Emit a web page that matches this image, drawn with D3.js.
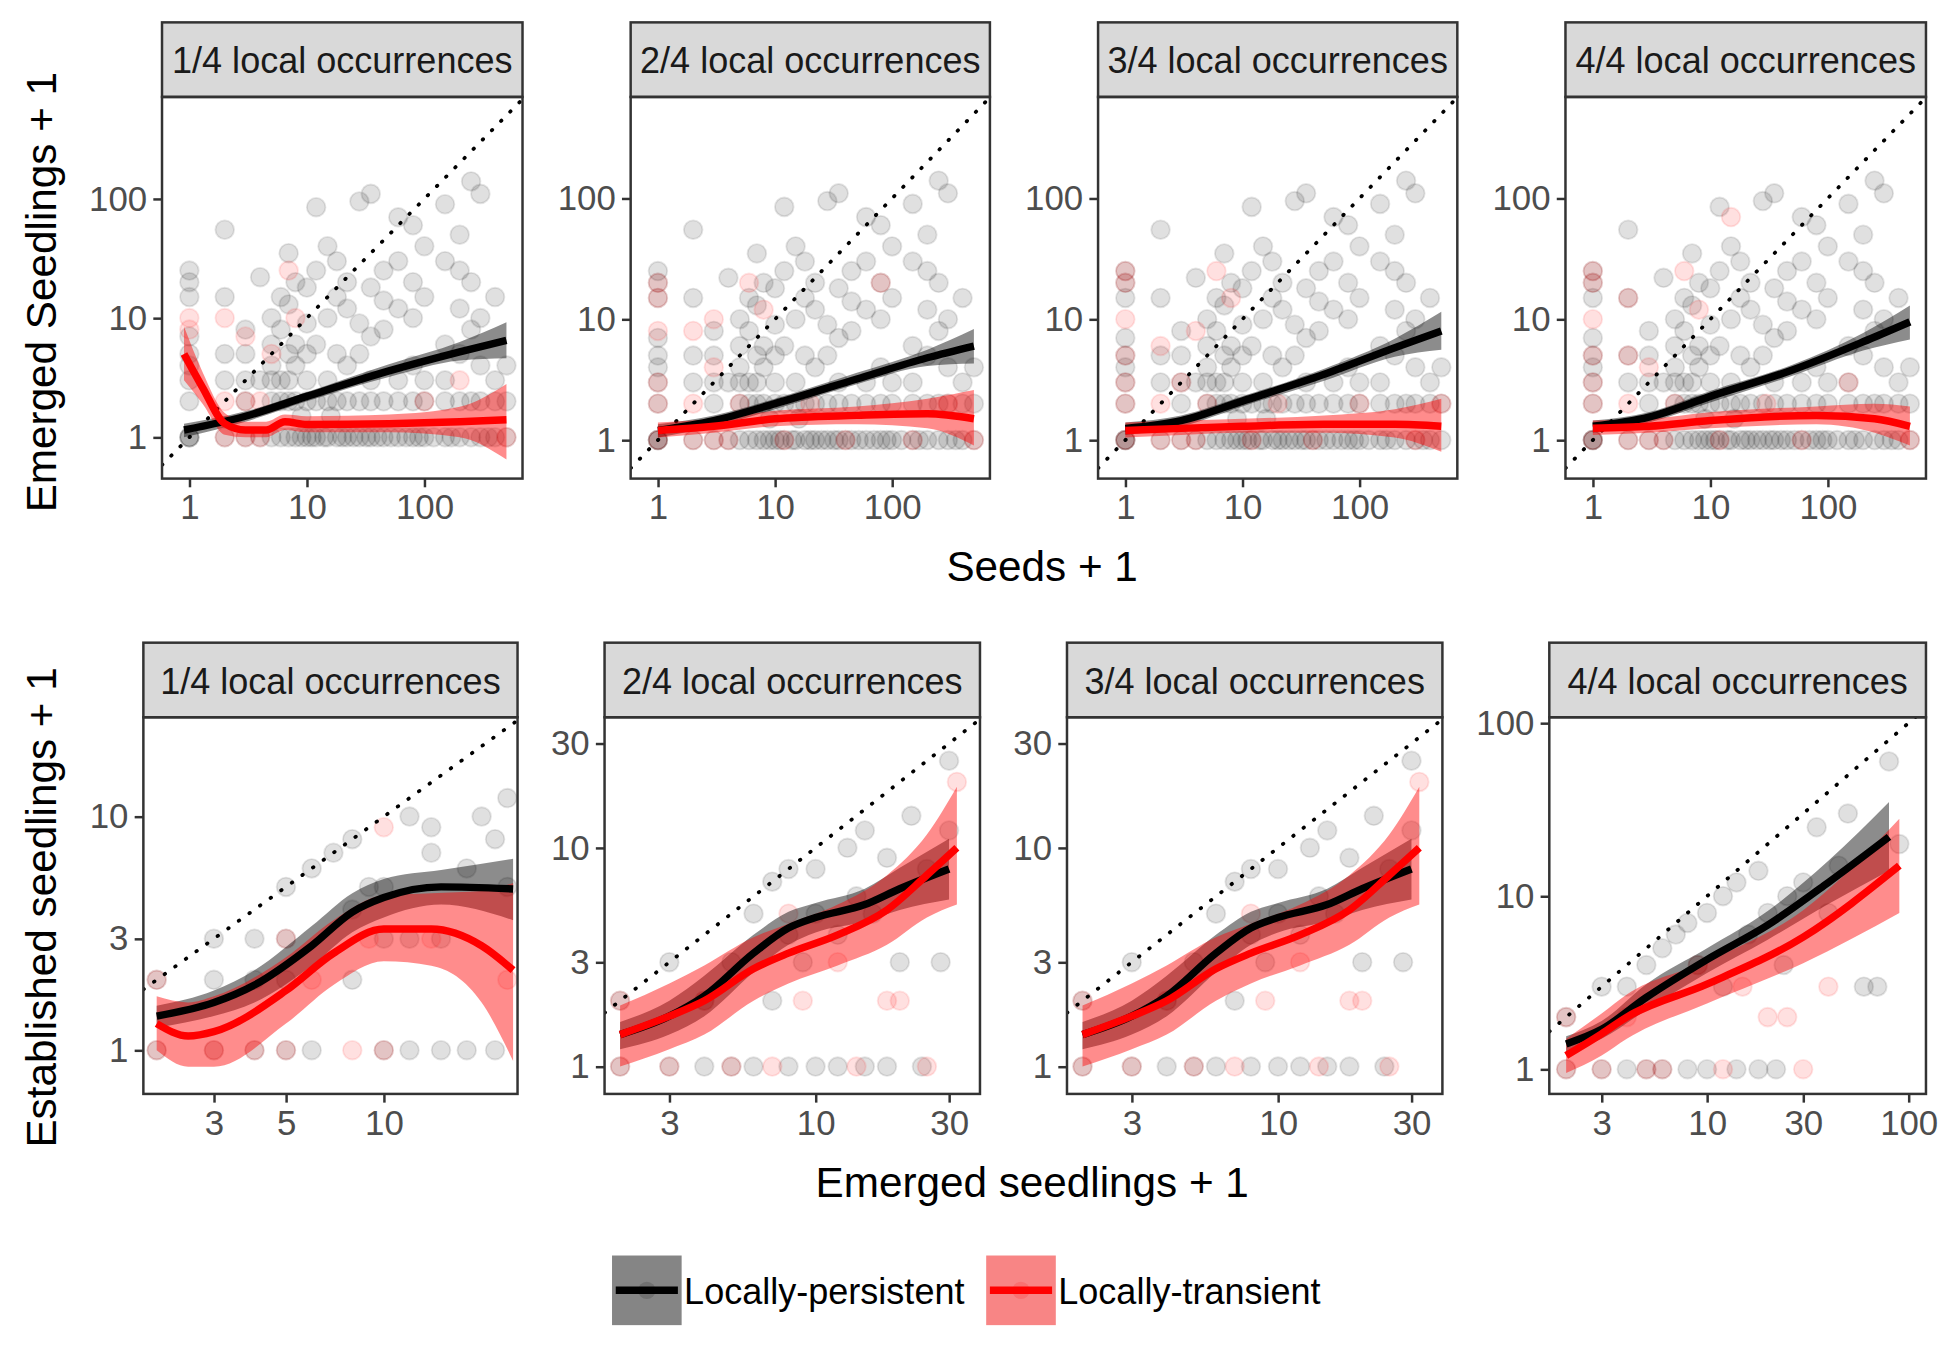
<!DOCTYPE html>
<html><head><meta charset="utf-8">
<script src="https://cdn.jsdelivr.net/npm/d3@7"></script>
<style>body{margin:0;background:#fff}text{font-family:Arial,"Liberation Sans",sans-serif}</style>
</head><body>
<script>
// ---- data ----
var stripLabels = ["1/4 local occurrences","2/4 local occurrences","3/4 local occurrences","4/4 local occurrences"];

// top row: seeds + 1 vs emerged + 1 (persistent points shared by panels)
var topPersistent = [[1,1],[1,1],[1,1],[1,2],[1,3],[1,4],[1,5],[1,7],[1,15],[1,20],[1,25],
 [2,1],[2,3],[2,5],[2,15],[2,55],[3,1],[3,2],[3,3],[3,5],[3,8],[4,1],[4,3],[4,22],
 [5,1],[5,2],[5,3],[5,4],[5,6],[5,10],[6,1],[6,2],[6,3],[6,8],[6,15],[7,1],[7,2],[7,3],[7,5],[7,13],[7,35],
 [8,1],[8,2],[8,4],[8,6],[8,20],[9,1],[9,1.5],[10,1],[10,2],[10,3],[10,5],[10,9],[10,18],[11,1],[12,1],[12,2],[12,6],[12,25],[12,85],
 [14,1],[15,1],[15,2],[15,3],[15,10],[15,40],[16,1.5],[18,1],[18,2],[18,5],[18,15],[18,30],[20,1],[22,1],[22,2],[22,4],[22,12],[22,20],
 [25,1],[28,1],[28,2],[28,5],[28,9],[28,95],[32,1],[35,1],[35,2],[35,3],[35,7],[35,18],[35,110],[40,1],[45,1],[45,2],[45,8],[45,25],[45,14],
 [52,1],[60,1],[60,2],[60,3],[60,12],[60,30],[60,70],[70,1],[80,1],[80,2],[80,4],[80,10],[80,20],[80,60],[90,1],[100,1],[100,2],[100,3],[100,15],[100,40],
 [120,1],[150,1],[150,2],[150,3],[150,6],[150,30],[150,90],[170,1],[200,1],[200,2],[200,5],[200,12],[200,50],[200,25],
 [250,1],[250,2],[250,8],[250,20],[250,140],[300,1],[300,2],[300,4],[300,10],[300,110],[350,1],[400,1],[400,2],[400,3],[400,15],[500,1],[500,2],[500,4]];
var topTransient = [
 [[1,8],[1,10],[2,1],[2,2],[2,10],[3,1],[3,2],[3,7],[4,1],[4,2],[5,5],[7,25],[8,10],[100,2],[200,3],[500,1]],
 [[1,1],[1,2],[1,3],[1,8],[1,15],[1,20],[2,1],[2,2],[2,8],[3,1],[3,4],[3,10],[4,1],[5,2],[6,20],[8,12],[12,1],[20,2],[40,1],[80,20],[150,1],[300,2],[500,1]],
 [[1,1],[1,2],[1,3],[1,5],[1,10],[1,20],[1,25],[2,1],[2,2],[2,6],[3,1],[3,3],[4,1],[4,8],[5,2],[6,25],[8,15],[12,1],[20,2],[40,1],[100,2],[300,1],[500,2]],
 [[1,1],[1,2],[1,3],[1,5],[1,10],[1,20],[1,25],[2,1],[2,2],[2,5],[2,15],[3,1],[3,4],[4,1],[5,2],[6,25],[8,12],[12,1],[15,70],[30,2],[60,1],[150,3],[500,1]]];
// smooth fits [x, fit, lower, upper]
var topFitP = [
 [[0.9,1.15,1.0,1.3],[3,1.5,1.35,1.65],[10,2.2,2.0,2.4],[50,3.6,3.2,4.1],[200,5.2,4.4,6.3],[500,6.5,4.6,9.2]],
 [[1,1.2,1.05,1.35],[3,1.45,1.3,1.6],[10,2.0,1.8,2.2],[50,3.2,2.9,3.6],[200,4.8,4.1,5.6],[500,6,4.3,8.3]],
 [[1,1.25,1.1,1.4],[3,1.45,1.3,1.6],[10,2.1,1.9,2.3],[50,3.5,3.1,3.9],[200,5.8,4.9,6.9],[500,8,5.6,11.5]],
 [[1,1.3,1.15,1.45],[3,1.55,1.4,1.7],[10,2.3,2.05,2.55],[50,3.8,3.4,4.2],[200,6.5,5.5,7.7],[500,9.5,6.8,13]]];
var topFitT = [
 [[0.9,5,3,8.5],[1.3,2.6,1.9,3.5],[2,1.3,1.05,1.6],[3,1.15,1.0,1.35],[4.5,1.15,1.0,1.35],[6.5,1.35,1.15,1.55],[10,1.28,1.1,1.5],[50,1.3,1.1,1.55],[200,1.35,1.0,1.8],[500,1.4,0.65,2.8]],
 [[1,1.2,1.05,1.4],[3,1.3,1.15,1.5],[10,1.5,1.3,1.75],[50,1.6,1.35,1.9],[200,1.65,1.25,2.2],[500,1.5,0.9,2.6]],
 [[1,1.2,1.05,1.4],[3,1.25,1.1,1.45],[10,1.3,1.15,1.5],[50,1.35,1.15,1.6],[200,1.35,1.05,1.8],[500,1.3,0.8,2.2]],
 [[1,1.25,1.1,1.45],[3,1.3,1.15,1.5],[10,1.45,1.25,1.7],[80,1.6,1.35,1.9],[250,1.5,1.15,2.0],[500,1.3,0.9,1.9]]];

// bottom row: emerged + 1 vs established + 1
var botPersistent = [
 [[2,1],[2,2],[3,1],[3,2],[3,3],[4,1],[4,2],[4,3],[5,1],[5,2],[5,3],[5,5],[6,1],[6,6],[7,7],[8,2],[8,4],[8,8],[9,5],[10,1],[10,3],[10,5],[12,1],[12,3],[12,10],[14,9],[14,7],[15,3],[15,1],[18,1],[18,6],[20,10],[22,1],[22,8],[24,12],[24,5]],
 [[2,1],[2,2],[3,1],[3,3],[4,1],[4,2],[5,1],[5,3],[6,1],[6,5],[7,2],[7,7],[8,1],[8,4],[8,8],[9,3],[10,1],[10,5],[10,8],[12,1],[12,4],[13,10],[14,6],[15,1],[15,12],[16,5],[18,1],[18,9],[20,3],[22,14],[24,1],[25,8],[28,3],[30,25],[30,12]],
 [[2,1],[2,2],[3,1],[3,3],[4,1],[4,2],[5,1],[5,3],[6,1],[6,5],[7,2],[7,7],[8,1],[8,4],[8,8],[9,3],[10,1],[10,5],[10,8],[12,1],[12,4],[13,10],[14,6],[15,1],[15,12],[16,5],[18,1],[18,9],[20,3],[22,14],[24,1],[25,8],[28,3],[30,25],[30,12]],
 [[2,1],[2,2],[3,1],[3,3],[4,1],[4,3],[5,1],[5,4],[6,1],[6,5],[7,6],[8,1],[8,7],[9,4],[10,1],[10,8],[12,3],[12,10],[14,1],[14,12],[16,6],[18,1],[18,14],[20,8],[22,1],[24,4],[25,10],[30,12],[35,25],[40,8],[45,15],[50,30],[60,3],[70,3],[80,60],[90,20]]];
var botTransient = [
 [[2,1],[2,2],[3,1],[4,1],[5,1],[5,3],[6,2],[8,1],[9,3],[10,1],[10,9],[14,3],[24,2]],
 [[2,1],[2,2],[3,1],[4,2],[5,1],[7,1],[8,5],[9,2],[12,3],[14,1],[18,2],[20,2],[25,1],[32,20]],
 [[2,1],[2,2],[3,1],[4,2],[5,1],[7,1],[8,5],[9,2],[12,3],[14,1],[18,2],[20,2],[25,1],[32,20]],
 [[2,1],[2,2],[3,1],[4,2],[5,1],[6,1],[9,4],[12,1],[15,3],[20,2],[25,2],[30,1],[40,3]]];
var botFitP = [
 [[2,1.4,1.25,1.55],[3,1.6,1.4,1.8],[4,1.9,1.6,2.2],[6,2.8,2.3,3.4],[8,3.9,3.2,4.7],[10,4.5,3.7,5.4],[15,5,4.2,5.9],[25,4.9,3.6,6.6]],
 [[2,1.4,1.2,1.6],[3,1.7,1.4,2],[4,2.1,1.7,2.6],[6,3.3,2.7,4],[8,4.3,3.6,5.1],[10,4.8,4.1,5.6],[15,5.5,4.6,6.5],[20,6.5,5.2,8.1],[30,8,5.8,11]],
 [[2,1.4,1.2,1.6],[3,1.7,1.4,2],[4,2.1,1.7,2.6],[6,3.3,2.7,4],[8,4.3,3.6,5.1],[10,4.8,4.1,5.6],[15,5.5,4.6,6.5],[20,6.5,5.2,8.1],[30,8,5.8,11]],
 [[2,1.4,1.25,1.55],[3,1.7,1.5,1.9],[5,2.6,2.2,3.1],[10,4.3,3.6,5],[20,6.8,5.6,8.2],[40,12,9,16],[80,22,14,35]]];
var botFitT = [
 [[2,1.3,1.0,1.7],[2.5,1.15,0.85,1.6],[3,1.2,0.85,1.7],[5,1.8,1.3,2.5],[7,2.6,1.9,3.6],[10,3.3,2.4,4.6],[14,3.3,2.3,4.7],[20,2.8,1.6,4.8],[25,2.2,0.9,5.2]],
 [[2,1.4,1.0,1.9],[3,1.7,1.2,2.4],[4,2.0,1.4,2.9],[6,2.8,2.0,3.9],[8,3.3,2.4,4.5],[12,4.0,2.9,5.5],[18,5.2,3.6,7.5],[25,7.5,4.8,11.5],[32,10,5.5,19]],
 [[2,1.4,1.0,1.9],[3,1.7,1.2,2.4],[4,2.0,1.4,2.9],[6,2.8,2.0,3.9],[8,3.3,2.4,4.5],[12,4.0,2.9,5.5],[18,5.2,3.6,7.5],[25,7.5,4.8,11.5],[32,10,5.5,19]],
 [[2,1.2,0.95,1.5],[3,1.6,1.2,2.1],[4,2.0,1.5,2.7],[10,3.1,2.4,4.2],[30,5.8,4.1,8.3],[90,15,8,28]]];

var topXTicks = [1,10,100], topYTicks = [1,10,100];
var botXTicks = [[3,5,10],[3,10,30],[3,10,30],[3,10,30,100]];
var botYTicks = [[1,3,10],[1,3,10,30],[1,3,10,30],[1,10,100]];

// ---- layout (drawn in a 1568x1086 frame, scaled up to the window) ----
var W = 1568, H = 1086;
var svg = d3.select("body").append("svg")
	.attr("width", 1950).attr("height", 1350)
	.attr("viewBox", "0 0 " + W + " " + H);

var topPanels = [
	{x0:130, x1:420, xd:[0.585,685], yd:[0.45,715]},
	{x0:507, x1:796, xd:[0.585,685], yd:[0.48,690]},
	{x0:883, x1:1172, xd:[0.585,685], yd:[0.48,690]},
	{x0:1259, x1:1549, xd:[0.585,685], yd:[0.48,690]}];
var botPanels = [
	{x0:115, x1:416, xd:[1.82,25.8], yd:[0.65,26.6]},
	{x0:486, x1:788, xd:[1.76,38.7], yd:[0.75,39.5]},
	{x0:858, x1:1160, xd:[1.76,38.7], yd:[0.75,39.5]},
	{x0:1246, x1:1549, xd:[1.65,122], yd:[0.72,108]}];

var clipId = 0;
function drawPanel(p, y0, y1, label, pers, trans, fitP, fitT, xt, yt) {
	var x = d3.scaleLog().domain(p.xd).range([p.x0, p.x1]);
	var y = d3.scaleLog().domain(p.yd).range([y1, y0]);
	var g = svg.append("g");
	var id = "clip" + (clipId++);
	svg.append("clipPath").attr("id", id).append("rect")
		.attr("x", p.x0).attr("y", y0).attr("width", p.x1 - p.x0).attr("height", y1 - y0);

	// strip
	g.append("rect").attr("x", p.x0).attr("y", y0 - 60).attr("width", p.x1 - p.x0).attr("height", 60)
		.attr("fill", "#d9d9d9").attr("stroke", "#333").attr("stroke-width", 2);
	g.append("text").attr("x", (p.x0 + p.x1) / 2).attr("y", y0 - 19).attr("text-anchor", "middle")
		.attr("font-size", 29).attr("fill", "#1a1a1a").text(label);

	var inner = g.append("g").attr("clip-path", "url(#" + id + ")");
	inner.selectAll(".pp").data(pers).enter().append("circle")
		.attr("cx", function(d) { return x(d[0]); }).attr("cy", function(d) { return y(d[1]); })
		.attr("r", 7.5).attr("fill", "#000").attr("fill-opacity", 0.12)
		.attr("stroke", "#000").attr("stroke-opacity", 0.1).attr("stroke-width", 1.5);
	inner.selectAll(".pt").data(trans).enter().append("circle")
		.attr("cx", function(d) { return x(d[0]); }).attr("cy", function(d) { return y(d[1]); })
		.attr("r", 7.5).attr("fill", "#f00").attr("fill-opacity", 0.12)
		.attr("stroke", "#f00").attr("stroke-opacity", 0.1).attr("stroke-width", 1.5);

	// identity line
	var lo = Math.max(p.xd[0], p.yd[0]), hi = Math.min(p.xd[1], p.yd[1]) * 1.2;
	inner.append("line").attr("x1", x(lo)).attr("y1", y(lo)).attr("x2", x(hi)).attr("y2", y(hi))
		.attr("stroke", "#000").attr("stroke-width", 3).attr("stroke-dasharray", "0.5,10")
		.attr("stroke-linecap", "round");

	var area = d3.area().curve(d3.curveMonotoneX)
		.x(function(d) { return x(d[0]); }).y0(function(d) { return y(d[2]); }).y1(function(d) { return y(d[3]); });
	var line = d3.line().curve(d3.curveMonotoneX)
		.x(function(d) { return x(d[0]); }).y(function(d) { return y(d[1]); });
	inner.append("path").attr("d", area(fitP)).attr("fill", "#000").attr("fill-opacity", 0.45);
	inner.append("path").attr("d", area(fitT)).attr("fill", "#f00").attr("fill-opacity", 0.45);
	inner.append("path").attr("d", line(fitP)).attr("fill", "none").attr("stroke", "#000").attr("stroke-width", 6);
	inner.append("path").attr("d", line(fitT)).attr("fill", "none").attr("stroke", "#f00").attr("stroke-width", 6);

	g.append("rect").attr("x", p.x0).attr("y", y0).attr("width", p.x1 - p.x0).attr("height", y1 - y0)
		.attr("fill", "none").attr("stroke", "#333").attr("stroke-width", 2);

	var fmt = function(d) { return String(d); };
	var ax = g.append("g").attr("transform", "translate(0," + y1 + ")")
		.call(d3.axisBottom(x).tickValues(xt).tickFormat(fmt).tickSize(7).tickPadding(6));
	var ay = g.append("g").attr("transform", "translate(" + p.x0 + ",0)")
		.call(d3.axisLeft(y).tickValues(yt).tickFormat(fmt).tickSize(7).tickPadding(5));
	[ax, ay].forEach(function(a) {
		a.select(".domain").remove();
		a.selectAll("line").attr("stroke", "#333").attr("stroke-width", 2);
		a.selectAll("text").attr("font-size", 28).attr("fill", "#4d4d4d")
			.attr("font-family", "Arial, 'Liberation Sans', sans-serif");
	});
}

for (var i = 0; i < 4; i++) {
	drawPanel(topPanels[i], 78, 385, stripLabels[i], topPersistent, topTransient[i], topFitP[i], topFitT[i], topXTicks, topYTicks);
	drawPanel(botPanels[i], 577, 880, stripLabels[i], botPersistent[i], botTransient[i], botFitP[i], botFitT[i], botXTicks[i], botYTicks[i]);
}

// titles
svg.append("text").attr("x", 838).attr("y", 467).attr("text-anchor", "middle").attr("font-size", 34).text("Seeds + 1");
svg.append("text").attr("x", 830).attr("y", 963).attr("text-anchor", "middle").attr("font-size", 34).text("Emerged seedlings + 1");
svg.append("text").attr("transform", "translate(45,235) rotate(-90)").attr("text-anchor", "middle").attr("font-size", 34).text("Emerged Seedlings + 1");
svg.append("text").attr("transform", "translate(45,730) rotate(-90)").attr("text-anchor", "middle").attr("font-size", 34).text("Established seedlings + 1");

// legend
var legendItems = [
	{label:"Locally-persistent", col:"#000", x:492},
	{label:"Locally-transient", col:"#f00", x:793}];
legendItems.forEach(function(d) {
	svg.append("rect").attr("x", d.x).attr("y", 1010).attr("width", 56).attr("height", 56).attr("fill", "#f2f2f2");
	svg.append("rect").attr("x", d.x).attr("y", 1010).attr("width", 56).attr("height", 56).attr("fill", d.col).attr("fill-opacity", 0.45);
	svg.append("circle").attr("cx", d.x + 28).attr("cy", 1038).attr("r", 7).attr("fill", d.col).attr("fill-opacity", 0.15);
	svg.append("line").attr("x1", d.x + 3).attr("x2", d.x + 53).attr("y1", 1038).attr("y2", 1038).attr("stroke", d.col).attr("stroke-width", 6);
	svg.append("text").attr("x", d.x + 58).attr("y", 1049).attr("font-size", 29).text(d.label);
});
</script>
</body></html>
